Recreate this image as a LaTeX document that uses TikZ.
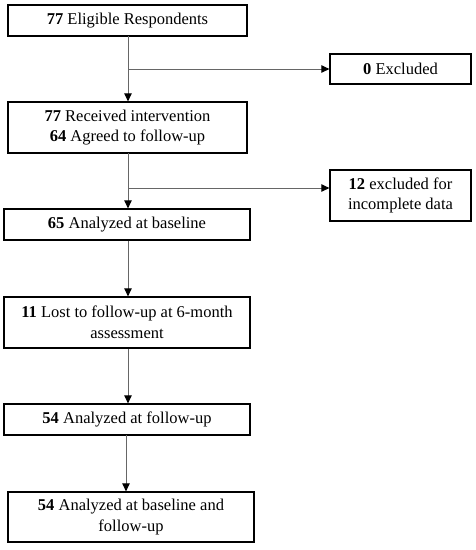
\documentclass[tikz,border=0pt]{standalone}
\usepackage{fontspec}
\setmainfont{Liberation Serif}
\usetikzlibrary{arrows.meta}
\begin{document}
\begin{tikzpicture}[x=1pt,y=1pt,
  box/.style={draw=black,line width=1.3pt,inner sep=0pt,align=center,
    font=\fontsize{16.5}{20.5}\selectfont},
  conn/.style={draw=black!60,line width=1pt,-{Triangle[length=8pt,width=7.5pt,color=black]}}]
\useasboundingbox (0,0) rectangle (476,-550);
\node[box,minimum width=239pt,minimum height=31pt] (b1) at (127.5,-20.5) {\textbf{77} Eligible Respondents};
\node[box,minimum width=141pt,minimum height=30pt] (e1) at (400.5,-69) {\textbf{0} Excluded};
\node[box,minimum width=239pt,minimum height=51pt] (b2) at (127.5,-127.5) {\textbf{77} Received intervention\\\textbf{64} Agreed to follow-up};
\node[box,minimum width=141pt,minimum height=51pt] (e2) at (400.5,-195.5) {\textbf{12} excluded for\\incomplete data};
\node[box,minimum width=246pt,minimum height=31pt] (b3) at (127,-224.5) {\textbf{65} Analyzed at baseline};
\node[box,minimum width=246pt,minimum height=51pt] (b4) at (127,-322.5) {\textbf{11} Lost to follow-up at 6-month\\assessment};
\node[box,minimum width=246pt,minimum height=31pt] (b5) at (127,-419.5) {\textbf{54} Analyzed at follow-up};
\node[box,minimum width=246pt,minimum height=50pt] (b6) at (131,-517) {\textbf{54} Analyzed at baseline and\\follow-up};
\coordinate (t1) at (128,-36);
\coordinate (t2) at (128,-153);
\coordinate (j1) at (128,-69);
\coordinate (j2) at (128,-188);
\draw[conn] (t1) -- (t1 |- b2.north);
\draw[conn] (j1) -- (e1.west);
\draw[conn] (t2) -- (t2 |- b3.north);
\draw[conn] (j2) -- (j2 -| e2.west);
\draw[conn] (t2 |- b3.south) -- (t2 |- b4.north);
\draw[conn] (t2 |- b4.south) -- (t2 |- b5.north);
\coordinate (t5) at (126,-435);
\draw[conn] (t5) -- (t5 |- b6.north);
\end{tikzpicture}
\end{document}
